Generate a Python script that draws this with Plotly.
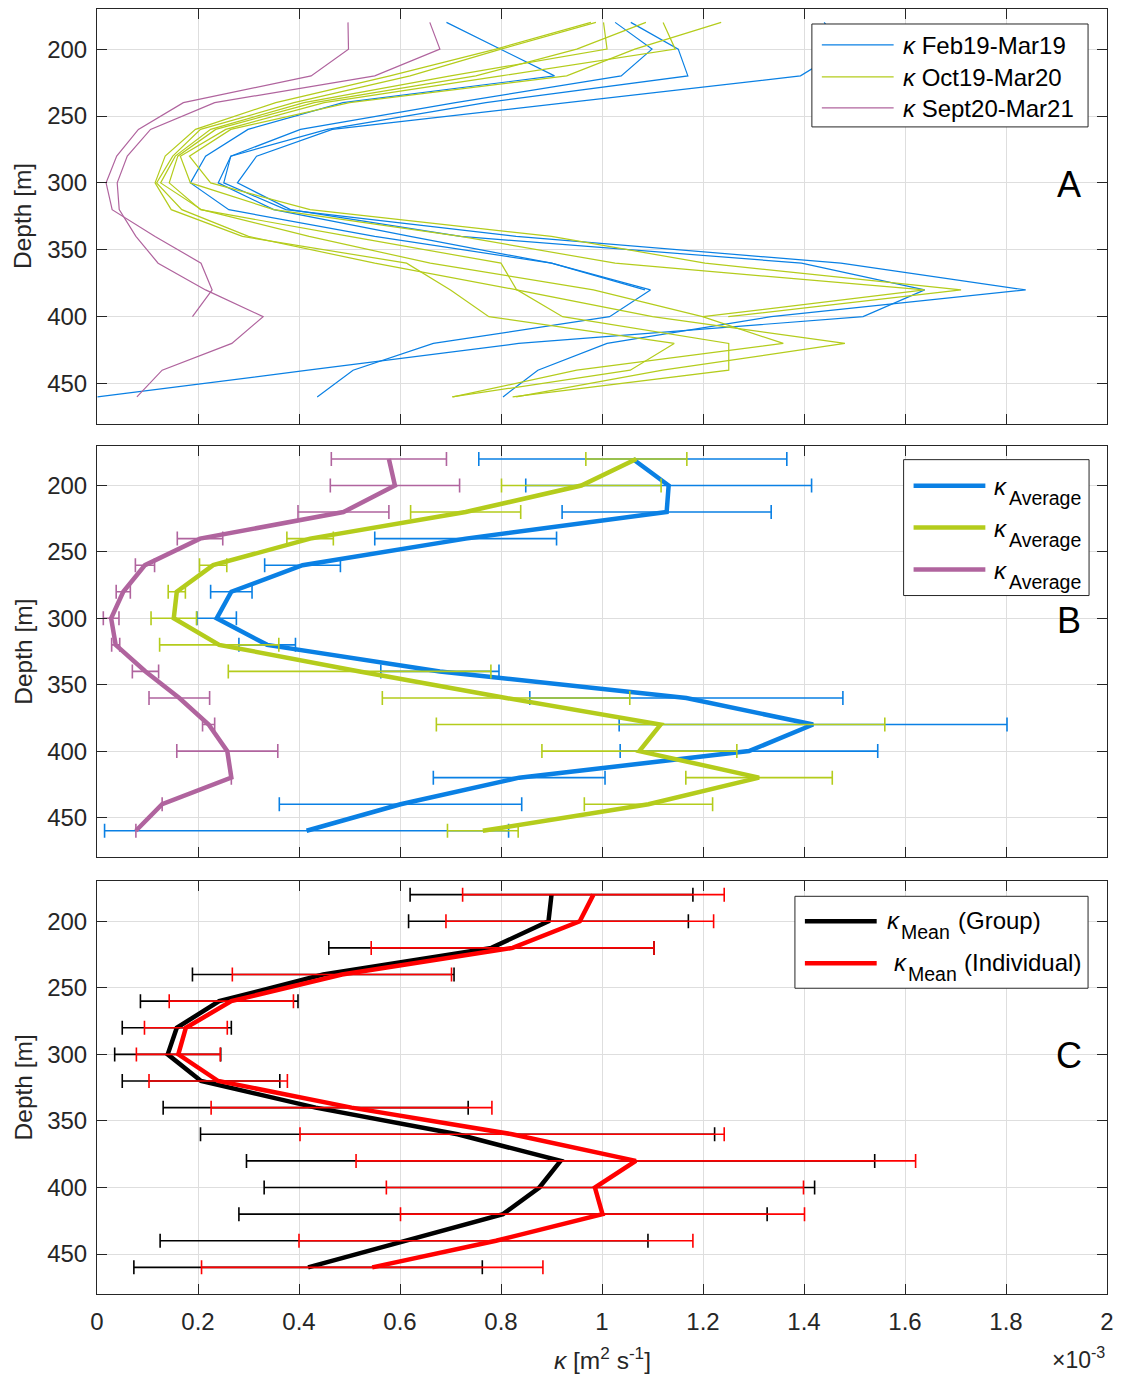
import plotly.graph_objects as go

# ---------------- DATA (kappa in units of 1e-3 m^2 s^-1) ----------------
depth = [180, 200, 220, 240, 260, 280, 300, 320, 340, 360, 380, 400, 420, 440, 460]

# Panel A: individual profiles
feb19_1 = [0.692, 0.800, 0.906, 0.487, 0.299, 0.215, 0.185, 0.261, 0.550, 0.900, 1.085, None, None, None, None]
feb19_2 = [1.026, 1.099, 1.038, 0.710, 0.403, 0.265, 0.240, 0.350, 0.620, 0.900, 1.096, 1.015, 0.666, 0.507, 0.436]
feb19_3 = [1.057, 1.151, 1.170, 0.770, 0.456, 0.265, 0.251, 0.374, 0.830, 1.473, 1.839, 1.335, 1.010, 0.873, 0.804]
feb19_4 = [1.440, 1.480, 1.393, 0.930, 0.466, 0.316, 0.278, 0.383, 0.720, 1.395, 1.639, 1.517, 0.835, 0.418, 0.001]

oct19_1 = [0.978, 0.790, 0.580, 0.354, 0.195, 0.135, 0.115, 0.147, 0.288, 0.613, 0.700, 0.776, 1.143, 1.056, 0.703]
oct19_2 = [0.988, 0.800, 0.620, 0.390, 0.205, 0.150, 0.118, 0.168, 0.300, 0.550, 0.832, 0.922, 1.251, 1.251, 0.823]
oct19_3 = [1.003, 1.010, 0.700, 0.410, 0.225, 0.155, 0.126, 0.207, 0.420, 0.660, 0.983, 1.199, 1.359, 0.950, 0.705]
oct19_4 = [1.087, 0.950, 0.750, 0.430, 0.235, 0.160, 0.143, 0.205, 0.500, 0.800, 0.831, 1.100, 1.481, 1.120, 0.830]
oct19_5 = [1.121, 1.145, 0.800, 0.450, 0.255, 0.165, 0.185, 0.350, 0.720, 1.026, 1.639, 1.200, None, None, None]
oct19_6 = [1.236, 1.065, 0.930, 0.500, 0.265, 0.183, 0.225, 0.422, 0.900, 1.204, 1.711, 1.250, None, None, None]

sep20_1 = [0.497, 0.498, 0.424, 0.171, 0.082, 0.039, 0.018, 0.030, 0.115, 0.206, 0.228, 0.189, None, None, None]
sep20_2 = [0.659, 0.679, 0.550, 0.233, 0.106, 0.060, 0.040, 0.044, 0.077, 0.121, 0.215, 0.329, 0.267, 0.129, 0.079]

# Panel B: campaign averages and spread
feb19_mean = [1.061, 1.132, 1.128, 0.730, 0.407, 0.266, 0.237, 0.337, 0.679, 1.167, 1.418, 1.291, 0.836, 0.601, 0.415]
feb19_err = [0.305, 0.283, 0.207, 0.180, 0.075, 0.041, 0.039, 0.056, 0.117, 0.310, 0.384, 0.255, 0.170, 0.240, 0.400]
oct19_mean = [1.068, 0.959, 0.730, 0.422, 0.230, 0.158, 0.152, 0.242, 0.520, 0.810, 1.116, 1.074, 1.311, 1.092, 0.764]
oct19_err = [0.100, 0.158, 0.109, 0.046, 0.027, 0.017, 0.045, 0.118, 0.260, 0.245, 0.444, 0.193, 0.145, 0.127, 0.070]
sep20_mean = [0.578, 0.590, 0.488, 0.204, 0.095, 0.052, 0.028, 0.037, 0.096, 0.163, 0.221, 0.258, 0.266, 0.129, 0.077]
sep20_err = [0.114, 0.128, 0.090, 0.045, 0.019, 0.014, 0.0155, 0.008, 0.026, 0.060, 0.012, 0.100, 0.0, 0.0, 0.0]

# Panel C: overall means
group_mean = [0.900, 0.894, 0.781, 0.448, 0.242, 0.158, 0.140, 0.206, 0.433, 0.714, 0.918, 0.876, 0.804, 0.608, 0.418]
group_err = [0.280, 0.277, 0.322, 0.259, 0.156, 0.108, 0.105, 0.156, 0.302, 0.509, 0.622, 0.545, 0.523, 0.483, 0.345]
indiv_mean = [0.983, 0.956, 0.823, 0.485, 0.266, 0.176, 0.161, 0.240, 0.504, 0.822, 1.067, 0.986, 1.001, 0.790, 0.545]
indiv_err = [0.259, 0.265, 0.280, 0.217, 0.123, 0.082, 0.083, 0.137, 0.278, 0.420, 0.554, 0.413, 0.400, 0.390, 0.338]

x_ticks = [0, 0.2, 0.4, 0.6, 0.8, 1.0, 1.2, 1.4, 1.6, 1.8, 2.0]
x_ticktext = ["0", "0.2", "0.4", "0.6", "0.8", "1", "1.2", "1.4", "1.6", "1.8", "2"]
y_ticks = [200, 250, 300, 350, 400, 450]

# ---------------- STYLE ----------------
BLUE = "#0A80E4"
GREEN = "#B4CC1C"
PURPLE = "#B0649E"
RED = "#FF0000"
BLACK = "#000000"
AXC = "#262626"
FONT = "Liberation Sans, Arial, Helvetica, sans-serif"

W, H = 1122, 1380
L, R, T, B = 97, 1110, 8, 1294


def pxx(x):
    return (x - L) / (R - L)


def pxy(y):
    return (B - y) / (B - T)


fig = go.Figure()

# Panel A
for prof in [feb19_1, feb19_2, feb19_3, feb19_4]:
    fig.add_trace(go.Scatter(x=prof, y=depth, mode="lines", line=dict(color=BLUE, width=1.2),
                             xaxis="x", yaxis="y", hoverinfo="skip"))
for prof in [oct19_1, oct19_2, oct19_3, oct19_4, oct19_5, oct19_6]:
    fig.add_trace(go.Scatter(x=prof, y=depth, mode="lines", line=dict(color=GREEN, width=1.2),
                             xaxis="x", yaxis="y", hoverinfo="skip"))
for prof in [sep20_1, sep20_2]:
    fig.add_trace(go.Scatter(x=prof, y=depth, mode="lines", line=dict(color=PURPLE, width=1.2),
                             xaxis="x", yaxis="y", hoverinfo="skip"))

# Panel B
for m, e, c in [(feb19_mean, feb19_err, BLUE), (oct19_mean, oct19_err, GREEN), (sep20_mean, sep20_err, PURPLE)]:
    fig.add_trace(go.Scatter(x=m, y=depth, mode="lines", line=dict(color=c, width=4.5),
                             error_x=dict(type="data", array=e, symmetric=True, color=c, thickness=1.6, width=7),
                             xaxis="x2", yaxis="y2"))

# Panel C
for m, e, c in [(group_mean, group_err, BLACK), (indiv_mean, indiv_err, RED)]:
    fig.add_trace(go.Scatter(x=m, y=depth, mode="lines", line=dict(color=c, width=4.5),
                             error_x=dict(type="data", array=e, symmetric=True, color=c, thickness=1.6, width=7),
                             xaxis="x3", yaxis="y3"))

xcommon = dict(range=[0, 2], tickvals=x_ticks, ticktext=x_ticktext, showgrid=True, gridcolor="#dedede",
               gridwidth=1, showline=True, linecolor=AXC, linewidth=1, mirror="ticks", ticks="inside",
               ticklen=10, tickcolor=AXC, zeroline=False, ticklabelstandoff=6,
               tickfont=dict(size=24, color=AXC, family=FONT))
ycommon = dict(range=[480, 170], tickvals=y_ticks, showgrid=True, gridcolor="#dedede", gridwidth=1,
               showline=True, linecolor=AXC, linewidth=1, mirror="ticks", ticks="inside", ticklen=10,
               tickcolor=AXC, zeroline=False, ticklabelstandoff=4,
               tickfont=dict(size=24, color=AXC, family=FONT))

dA = [pxy(423), 1.0]
dB = [pxy(857), pxy(445)]
dC = [0.0, pxy(881)]

fig.update_layout(
    width=W, height=H, margin=dict(l=L, r=W - R, t=T, b=H - B),
    plot_bgcolor="white", paper_bgcolor="white", showlegend=False,
    font=dict(family=FONT, size=23, color=AXC),
    xaxis=dict(xcommon, anchor="y", showticklabels=False),
    xaxis2=dict(xcommon, anchor="y2", showticklabels=False),
    xaxis3=dict(xcommon, anchor="y3", showticklabels=True),
    yaxis=dict(ycommon, domain=dA, anchor="x"),
    yaxis2=dict(ycommon, domain=dB, anchor="x2"),
    yaxis3=dict(ycommon, domain=dC, anchor="x3"),
)

shapes = []
ann = []


def text(x, y, s, size=23, anchor="left", color=BLACK, angle=0):
    ann.append(dict(x=pxx(x), y=pxy(y), xref="paper", yref="paper", text=s, showarrow=False,
                    xanchor=anchor, yanchor="middle", textangle=angle,
                    font=dict(size=size, color=color, family=FONT)))


def box(x0, y0, x1, y1):
    shapes.append(dict(type="rect", xref="paper", yref="paper", x0=pxx(x0), x1=pxx(x1), y0=pxy(y1), y1=pxy(y0),
                       line=dict(color=AXC, width=1), fillcolor="white", layer="above"))


def seg(x0, x1, y, color, width):
    shapes.append(dict(type="line", xref="paper", yref="paper", x0=pxx(x0), x1=pxx(x1), y0=pxy(y), y1=pxy(y),
                       line=dict(color=color, width=width), layer="above"))


# y titles
for yc in [215, 651, 1087]:
    text(23, yc, "Depth [m]", size=24.5, anchor="center", color=AXC, angle=-90)
# x title and exponent
text(604, 1359, "<i>κ</i> [m<sup>2</sup> s<sup>-1</sup>]", size=24.5, anchor="center", color=AXC)
ann.append(dict(x=1.0, y=pxy(1358), xref="paper", yref="paper", text="×10<sup>-3</sup>", showarrow=False,
                xanchor="right", yanchor="middle", font=dict(size=23, color=AXC, family=FONT)))

# panel letters
text(1072, 184, "A", size=36, anchor="center")
text(1072, 620, "B", size=36, anchor="center")
text(1072, 1055, "C", size=36, anchor="center")

# Legend A
box(814, 23, 1091, 126)
for yy, c, lab in [(44, BLUE, "Feb19-Mar19"), (76, GREEN, "Oct19-Mar20"), (107, PURPLE, "Sept20-Mar21")]:
    seg(824, 896, yy, c, 1.2)
    text(903, yy + 1, "<i>κ</i> " + lab, size=24)

# Legend B
box(906, 459, 1092, 595)
for yy, c in [(485, BLUE), (527, GREEN), (569, PURPLE)]:
    seg(916, 988, yy, c, 4.5)
    text(995, yy + 1, "<i>κ</i>", size=24)
    text(1010, yy + 12, "Average", size=19.5)

# Legend C
box(797, 896, 1091, 988)
for yy, c, k0, lab, l0 in [(921, BLACK, 887, "(Group)", 959), (963, RED, 894, "(Individual)", 965)]:
    seg(807, 879, yy, c, 4.5)
    text(k0, yy - 1, "<i>κ</i>", size=24)
    text(k0 + 14, yy + 11, "Mean", size=19.5)
    text(l0, yy - 1, lab, size=24)

fig.update_layout(shapes=shapes, annotations=ann)
fig.write_html("out.html", config={"displayModeBar": False},
               post_script="document.body.style.margin='0';document.body.style.padding='0';"
                           "document.documentElement.style.overflow='hidden';")
